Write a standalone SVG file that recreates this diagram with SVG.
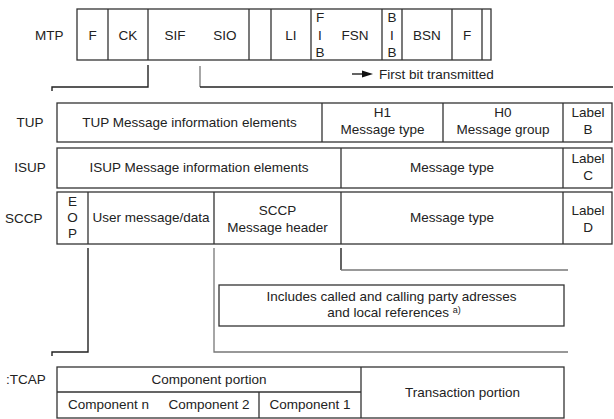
<svg xmlns="http://www.w3.org/2000/svg" width="614" height="419" viewBox="0 0 614 419">
<style>
  text { font-family: "Liberation Sans", Arial, sans-serif; font-size: 13.5px; fill: #222; }
  .m { text-anchor: middle; }
  .box { fill: #fff; stroke: #333; stroke-width: 1.3; }
  .ln { fill: none; stroke: #333; stroke-width: 1.3; }
  .dark { fill: none; stroke: #222; stroke-width: 1.4; }
  .lt { fill: none; stroke: #777; stroke-width: 1.3; }
  .sup { font-size: 9px; }
</style>
<rect width="614" height="419" fill="#fff"/>

<g id="mtp">
  <text x="35" y="40">MTP</text>
  <rect class="box" x="77" y="9" width="414" height="51"/>
  <path class="ln" d="M108 9V60M148 9V60M249 9V60M271 9V60M311 9V60M382 9V60M402 9V60M452 9V60M482 9V60"/>
  <text class="m" x="92.5" y="40">F</text>
  <text class="m" x="128" y="40">CK</text>
  <text class="m" x="175" y="40">SIF</text>
  <text class="m" x="225" y="40">SIO</text>
  <text class="m" x="291" y="40">LI</text>
  <text class="m" x="320" y="22">F</text>
  <text class="m" x="320" y="40">I</text>
  <text class="m" x="320" y="57">B</text>
  <text class="m" x="355" y="40">FSN</text>
  <text class="m" x="392" y="22">B</text>
  <text class="m" x="392" y="40">I</text>
  <text class="m" x="392" y="57">B</text>
  <text class="m" x="427" y="40">BSN</text>
  <text class="m" x="467" y="40">F</text>
</g>

<g id="first-bit">
  <text x="379" y="79">First bit transmitted</text>
</g>

<g id="tup">
  <text class="m" x="30" y="127">TUP</text>
  <rect class="box" x="57" y="103" width="555" height="39"/>
  <path class="ln" d="M322 103V142M443 103V142M563 103V142"/>
  <text class="m" x="189.5" y="127">TUP Message information elements</text>
  <text class="m" x="382.5" y="117">H1</text>
  <text class="m" x="382.5" y="134">Message type</text>
  <text class="m" x="503" y="117">H0</text>
  <text class="m" x="503" y="134">Message group</text>
  <text class="m" x="588" y="117">Label</text>
  <text class="m" x="588" y="134">B</text>
</g>

<g id="isup">
  <text class="m" x="30" y="172">ISUP</text>
  <rect class="box" x="57" y="148" width="555" height="40"/>
  <path class="ln" d="M341 148V188M563 148V188"/>
  <text class="m" x="199" y="172">ISUP Message information elements</text>
  <text class="m" x="452" y="172">Message type</text>
  <text class="m" x="588" y="163">Label</text>
  <text class="m" x="588" y="180">C</text>
</g>

<g id="sccp">
  <text x="5" y="223">SCCP</text>
  <rect class="box" x="57" y="192" width="555" height="52"/>
  <path class="ln" d="M88 192V244M214 192V244M341 192V244M563 192V244"/>
  <text class="m" x="72.5" y="206">E</text>
  <text class="m" x="72.5" y="222">O</text>
  <text class="m" x="72.5" y="238">P</text>
  <text class="m" x="151" y="222">User message/data</text>
  <text class="m" x="277.5" y="215">SCCP</text>
  <text class="m" x="277.5" y="232">Message header</text>
  <text class="m" x="452" y="222">Message type</text>
  <text class="m" x="588" y="215">Label</text>
  <text class="m" x="588" y="232">D</text>
</g>

<g id="includes">
  <rect class="box" x="219" y="285" width="345" height="41"/>
  <text class="m" x="391.5" y="301">Includes called and calling party adresses</text>
  <text class="m" x="394" y="317">and local references <tspan class="sup" dy="-4">a)</tspan></text>
</g>

<g id="tcap">
  <text x="6" y="384">:TCAP</text>
  <rect class="box" x="57" y="367" width="507" height="51"/>
  <path class="ln" d="M57 392H361M361 367V418M259 392V418"/>
  <text class="m" x="209" y="384">Component portion</text>
  <text class="m" x="108.5" y="409">Component n</text>
  <text class="m" x="209" y="409">Component 2</text>
  <text class="m" x="310" y="409">Component 1</text>
  <text class="m" x="462.5" y="397">Transaction portion</text>
</g>

<g id="connectors">
  <path class="dark" d="M148 65V87H52V91"/>
  <path class="lt" d="M200 66V87"/>
  <path class="dark" d="M200 87H613"/>
  <path class="dark" d="M352 74H364"/>
  <polygon points="362,70.5 373,74 362,77.5" fill="#111"/>
  <path class="dark" d="M88 248V352H52V356"/>
  <path class="lt" d="M214 248V352H568"/>
  <path class="dark" d="M341 248V270"/>
  <path class="lt" d="M341 270H568"/>
</g>
</svg>
